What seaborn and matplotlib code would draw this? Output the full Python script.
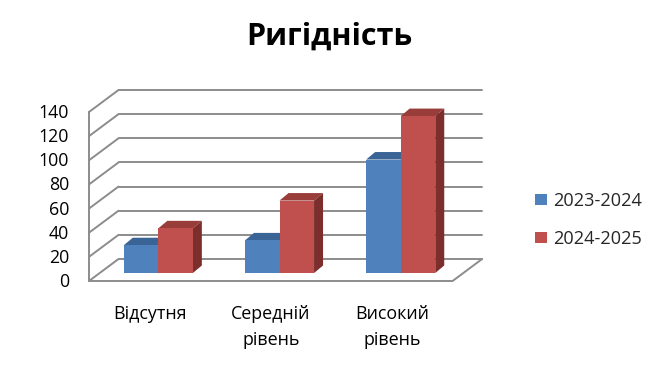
import matplotlib
matplotlib.use("Agg")
import matplotlib.pyplot as plt
from matplotlib.patches import Polygon, Patch
import seaborn as sns
import pandas as pd

categories = ["Відсутня", "Середній\nрівень", "Високий\nрівень"]
series = ["2023-2024", "2024-2025"]
values_2023 = [23, 27, 94]
values_2024 = [37, 60, 130]
yticks = [0, 20, 40, 60, 80, 100, 120, 140]
title = "Ригідність"

colors_front = ["#4F81BD", "#C0504D"]
colors_top = ["#3B6496", "#983D3A"]
colors_side = ["#2F5079", "#7B2E2C"]
grid_color = "#8C8C8C"

sns.set_theme(style="white")
plt.rcParams["font.family"] = ["Open Sans", "DejaVu Sans"]

df = pd.DataFrame({
    "cat": categories * 2,
    "year": [series[0]] * 3 + [series[1]] * 3,
    "val": values_2023 + values_2024,
})

W, H = 659, 372
fig = plt.figure(figsize=(W / 100, H / 100), dpi=100)
fig.patch.set_facecolor("white")

# bar plane in pixels
x_left, x_right = 97.7, 461.3
y_base, y_top = 273.0, 104.0
ax = fig.add_axes([x_left / W, (H - y_base) / H, (x_right - x_left) / W, (y_base - y_top) / H])

sns.barplot(data=df, x="cat", y="val", hue="year", palette=colors_front,
            width=0.57, saturation=1, ax=ax, legend=False)
ax.set_xlim(-0.5, 2.5)
ax.set_ylim(0, 140)
ax.set_axis_off()

xpp = 3.0 / (x_right - x_left)
ypp = 140.0 / (y_base - y_top)

# depth offsets (front plane, back plane, bar depth)
fx, fy = -8.7 * xpp, -8.0 * ypp
bx, by = 20.8 * xpp, 14.0 * ypp
dx, dy = 9.0 * xpp, 7.5 * ypp

lw = 1.4
for y in yticks:
    ax.plot([-0.5 + bx, 2.5 + bx], [y + by, y + by], color=grid_color, lw=lw, zorder=1, clip_on=False)
    ax.plot([-0.5 + fx, -0.5 + bx], [y + fy, y + by], color=grid_color, lw=lw, zorder=1, clip_on=False)
    ax.text(-0.5 + fx - 20 * xpp, y + fy - 1 * ypp, str(y), ha="right", va="center",
            fontsize=12.8, color="black")
ax.plot([-0.5 + fx, -0.5 + fx], [fy, yticks[-1] + fy], color=grid_color, lw=lw, zorder=1, clip_on=False)
ax.plot([-0.5 + fx, 2.5 + fx, 2.5 + bx], [fy, fy, by], color=grid_color, lw=lw, zorder=1, clip_on=False)

for i, cont in enumerate(ax.containers):
    zf = 3 + 2 * i
    for bar in cont:
        bar.set_zorder(zf)
        bar.set_edgecolor("none")
        x, w, h = bar.get_x(), bar.get_width(), bar.get_height()
        top = Polygon([(x, h), (x + w, h), (x + w + dx, h + dy), (x + dx, h + dy)],
                      closed=True, facecolor=colors_top[i], edgecolor="none", zorder=zf - 0.5, clip_on=False)
        side = Polygon([(x + w, 0), (x + w, h), (x + w + dx, h + dy), (x + w + dx, dy)],
                       closed=True, facecolor=colors_side[i], edgecolor="none", zorder=zf - 0.5, clip_on=False)
        ax.add_patch(top)
        ax.add_patch(side)

for i, cat in enumerate(categories):
    for j, line in enumerate(cat.split("\n")):
        ypix = 314 + 26 * j
        ax.text(i + fx, -(ypix - y_base) * ypp, line, ha="center", va="center",
                fontsize=12.9, color="black")

fig.text(329 / W, 1 - 37 / H, title, ha="center", va="center", fontsize=22,
         fontweight="bold", color="black")

handles = [Patch(facecolor=c, edgecolor="none") for c in colors_front]
fig.legend(handles, series, loc="center left", bbox_to_anchor=(519 / W, 1 - 220 / H),
           frameon=False, fontsize=13.1, handlelength=0.62, handleheight=0.62,
           handletextpad=0.35, labelspacing=1.1)

fig.savefig("out.png", dpi=100, facecolor="white")
